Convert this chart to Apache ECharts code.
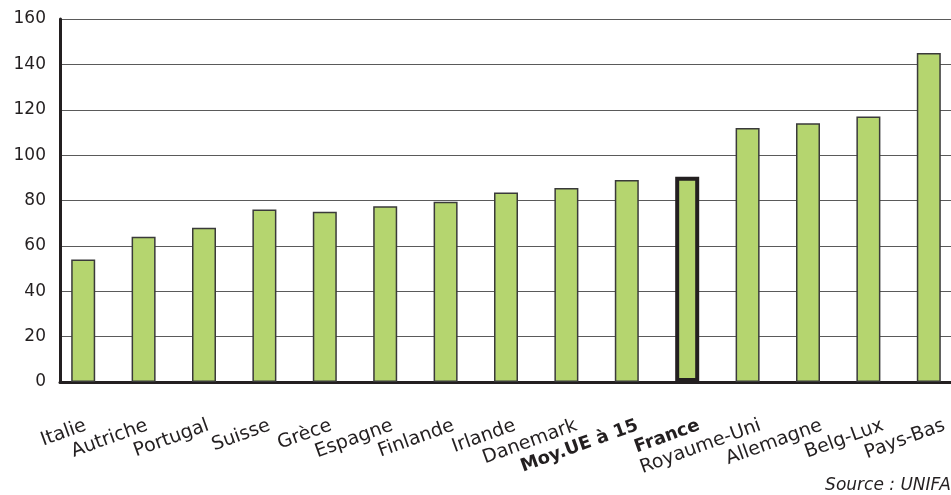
<!DOCTYPE html>
<html>
<head>
<meta charset="utf-8">
<script src="https://cdn.jsdelivr.net/npm/echarts@6/dist/echarts.min.js"></script>
<style>
  html, body { margin: 0; padding: 0; background: #fff; }
  #chart { width: 951px; height: 495px; }
</style>
</head>
<body>
<div id="chart"></div>
<script>
// Pays (ordre croissant) et valeurs
const categories = ['Italie', 'Autriche', 'Portugal', 'Suisse', 'Grèce', 'Espagne', 'Finlande',
  'Irlande', 'Danemark', 'Moy.UE à 15', 'France', 'Royaume-Uni', 'Allemagne', 'Belg-Lux', 'Pays-Bas'];
const values = [54, 64, 68, 76, 75, 77.5, 79.5, 83.5, 85.5, 89, 90.5, 112, 114, 117, 145];
const boldCategories = ['Moy.UE à 15', 'France'];
const highlighted = 'France';
const yTicks = [0, 20, 40, 60, 80, 100, 120, 140, 160];
const sourceText = 'Source : UNIFA';

const FONT = 'DejaVu Sans';
const TEXT = '#231f20';
const GREEN = '#b5d56f';

const chart = echarts.init(document.getElementById('chart'), null, { renderer: 'canvas' });

const barData = values.map((v, i) => ({
  value: v,
  itemStyle: categories[i] === highlighted
    ? { color: GREEN, borderColor: TEXT, borderWidth: 4 }
    : { color: GREEN, borderColor: '#3a3a3a', borderWidth: 1.5 }
}));

const hidden = {
  axisLine: { show: false }, axisTick: { show: false },
  axisLabel: { show: false }, splitLine: { show: false }
};

// the plot runs past the right edge of the canvas
const gridBase = { top: 19, height: 363, outerBoundsMode: 'none', containLabel: false };

chart.setOption({
  animation: false,
  backgroundColor: '#fff',
  grid: [
    // bars
    Object.assign({ left: 53, width: 906 }, gridBase),
    // axis lines, gridlines, value labels
    Object.assign({ left: 60, width: 906 }, gridBase),
    // country labels
    Object.assign({ left: 55, width: 920 }, gridBase)
  ],
  xAxis: [
    Object.assign({ gridIndex: 0, type: 'category', data: categories }, hidden),
    {
      gridIndex: 1, type: 'category', data: categories,
      axisLine: { show: true, lineStyle: { color: TEXT, width: 3 } },
      axisTick: { show: false }, axisLabel: { show: false }
    },
    {
      gridIndex: 2, type: 'category', data: categories,
      axisLine: { show: false }, axisTick: { show: false },
      axisLabel: {
        rotate: 20, margin: 43, color: TEXT, fontFamily: FONT, fontSize: 19,
        interval: 0,
        formatter: (v) => boldCategories.includes(v) ? '{b|' + v + '}' : v,
        rich: { b: { fontWeight: 'bold', fontFamily: FONT, fontSize: 18, color: TEXT } }
      }
    }
  ],
  yAxis: [
    Object.assign({ gridIndex: 0, type: 'value', min: 0, max: 160, interval: 20 }, hidden),
    {
      gridIndex: 1, type: 'value', min: yTicks[0], max: yTicks[yTicks.length - 1], interval: 20,
      axisLine: { show: true, lineStyle: { color: TEXT, width: 3 } },
      axisTick: { show: false },
      axisLabel: { margin: 14, color: TEXT, fontFamily: FONT, fontSize: 17 },
      splitLine: { show: true, lineStyle: { color: '#5a5a5a', width: 1 } }
    },
    Object.assign({ gridIndex: 2, type: 'value', min: 0, max: 160, interval: 20 }, hidden)
  ],
  series: [
    {
      type: 'bar', xAxisIndex: 0, yAxisIndex: 0,
      data: barData, barWidth: 24, z: 3
    }
  ],
  graphic: [
    {
      type: 'text', right: 0, top: 477,
      style: { text: sourceText, fill: TEXT, font: 'italic 17px "DejaVu Sans"' }
    }
  ]
});
</script>
</body>
</html>
